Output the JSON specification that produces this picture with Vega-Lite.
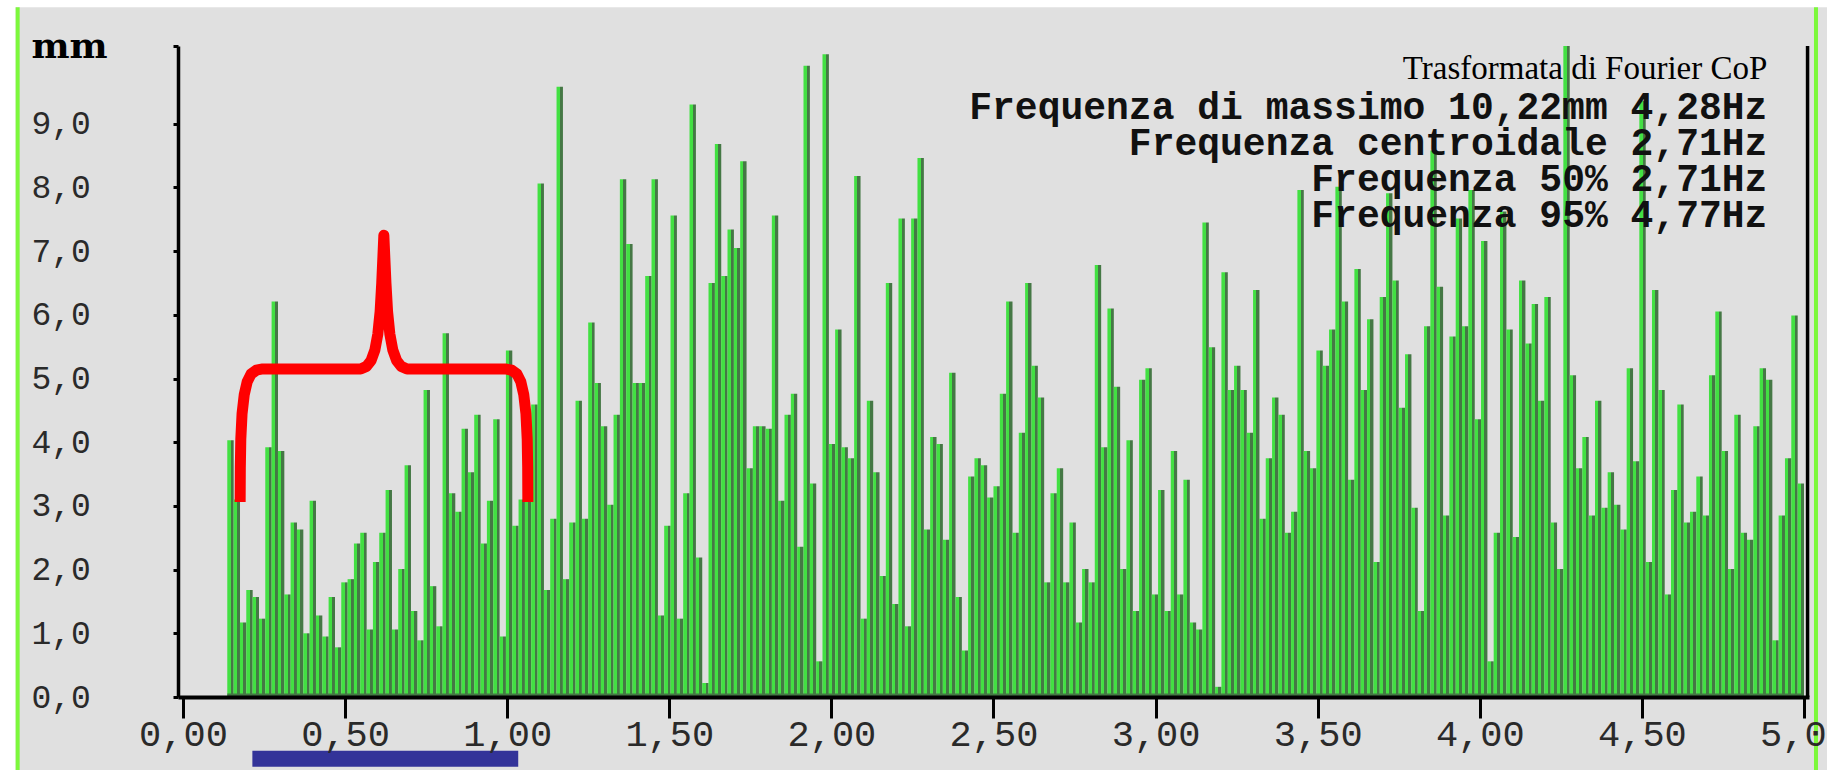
{
  "$schema": "https://vega.github.io/schema/vega-lite/v6.json",
  "width": 1631,
  "height": 651,
  "autosize": {"type": "none"},
  "padding": {"left": 178, "top": 46, "right": 18, "bottom": 73},
  "background": "#e0e0e0",
  "config": {"view": {"stroke": null}, "axis": {"grid": false}},
  "datasets": {
    "spectrum": [
      {"f":0.15625,"a":4.03},{"f":0.17578,"a":3.1},{"f":0.19531,"a":1.17},{"f":0.21484,"a":1.68},{"f":0.23438,"a":1.57},{"f":0.25391,"a":1.23},{"f":0.27344,"a":3.92},{"f":0.29297,"a":6.21},{"f":0.3125,"a":3.86},{"f":0.33203,"a":1.61},
      {"f":0.35156,"a":2.74},{"f":0.37109,"a":2.63},{"f":0.39063,"a":1.0},{"f":0.41016,"a":3.08},{"f":0.42969,"a":1.28},{"f":0.44922,"a":0.95},{"f":0.46875,"a":1.57},{"f":0.48828,"a":0.78},{"f":0.50781,"a":1.8},{"f":0.52734,"a":1.85},
      {"f":0.54688,"a":2.41},{"f":0.56641,"a":2.58},{"f":0.58594,"a":1.06},{"f":0.60547,"a":2.12},{"f":0.625,"a":2.58},{"f":0.64453,"a":3.25},{"f":0.66406,"a":1.06},{"f":0.68359,"a":2.01},{"f":0.70313,"a":3.64},{"f":0.72266,"a":1.35},
      {"f":0.74219,"a":0.89},{"f":0.76172,"a":4.82},{"f":0.78125,"a":1.74},{"f":0.80078,"a":1.11},{"f":0.82031,"a":5.71},{"f":0.83984,"a":3.2},{"f":0.85938,"a":2.91},{"f":0.87891,"a":4.21},
      {"f":0.89844,"a":3.53},{"f":0.91797,"a":4.43},{"f":0.9375,"a":2.41},{"f":0.95703,"a":3.08},{"f":0.97656,"a":4.36},{"f":0.99609,"a":0.95},{"f":1.01563,"a":5.44},{"f":1.03516,"a":2.69},{"f":1.05469,"a":3.1},{"f":1.07422,"a":3.1},
      {"f":1.09375,"a":4.59},{"f":1.11328,"a":8.06},{"f":1.13281,"a":1.68},{"f":1.15234,"a":2.8},{"f":1.17188,"a":9.58},{"f":1.19141,"a":1.85},{"f":1.21094,"a":2.74},{"f":1.23047,"a":4.65},{"f":1.25,"a":2.8},{"f":1.26953,"a":5.88},
      {"f":1.28906,"a":4.93},{"f":1.30859,"a":4.25},{"f":1.32813,"a":3.02},{"f":1.34766,"a":4.43},{"f":1.36719,"a":8.13},{"f":1.38672,"a":7.11},{"f":1.40625,"a":4.93},{"f":1.42578,"a":4.93},{"f":1.44531,"a":6.61},{"f":1.46484,"a":8.13},
      {"f":1.48438,"a":1.28},{"f":1.50391,"a":2.69},{"f":1.52344,"a":7.56},{"f":1.54297,"a":1.23},{"f":1.5625,"a":3.2},{"f":1.58203,"a":9.3},{"f":1.60156,"a":2.19},{"f":1.62109,"a":0.22},{"f":1.64063,"a":6.5},{"f":1.66016,"a":8.68},
      {"f":1.67969,"a":6.61},{"f":1.69922,"a":7.34},{"f":1.71875,"a":7.05},
      {"f":1.73828,"a":8.41},{"f":1.75781,"a":3.59},{"f":1.77734,"a":4.25},{"f":1.79688,"a":4.25},{"f":1.81641,"a":4.21},{"f":1.83594,"a":7.56},{"f":1.85547,"a":3.08},{"f":1.875,"a":4.43},{"f":1.89453,"a":4.76},{"f":1.91406,"a":2.36},
      {"f":1.93359,"a":9.91},{"f":1.95313,"a":3.35},{"f":1.97266,"a":0.56},{"f":1.99219,"a":10.09},{"f":2.01172,"a":3.97},{"f":2.03125,"a":5.77},{"f":2.05078,"a":3.92},{"f":2.07031,"a":3.75},{"f":2.08984,"a":8.18},{"f":2.10938,"a":1.23},
      {"f":2.12891,"a":4.65},{"f":2.14844,"a":3.53},{"f":2.16797,"a":1.9},{"f":2.1875,"a":6.5},{"f":2.20703,"a":1.46},{"f":2.22656,"a":7.51},{"f":2.24609,"a":1.11},{"f":2.26563,"a":7.51},{"f":2.28516,"a":8.46},{"f":2.30469,"a":2.63},
      {"f":2.32422,"a":4.08},{"f":2.34375,"a":3.97},{"f":2.36328,"a":2.47},{"f":2.38281,"a":5.09},{"f":2.40234,"a":1.57},{"f":2.42188,"a":0.73},{"f":2.44141,"a":3.46},{"f":2.46094,"a":3.75},{"f":2.48047,"a":3.64},{"f":2.5,"a":3.13},
      {"f":2.51953,"a":3.31},{"f":2.53906,"a":4.76},
      {"f":2.55859,"a":6.21},{"f":2.57813,"a":2.58},{"f":2.59766,"a":4.15},{"f":2.61719,"a":6.5},{"f":2.63672,"a":5.2},{"f":2.65625,"a":4.7},{"f":2.67578,"a":1.8},{"f":2.69531,"a":3.2},{"f":2.71484,"a":3.59},{"f":2.73438,"a":1.8},
      {"f":2.75391,"a":2.74},{"f":2.77344,"a":1.17},{"f":2.79297,"a":2.01},{"f":2.8125,"a":1.8},{"f":2.83203,"a":6.78},{"f":2.85156,"a":3.92},{"f":2.87109,"a":6.1},{"f":2.89063,"a":4.87},{"f":2.91016,"a":2.01},{"f":2.92969,"a":4.03},
      {"f":2.94922,"a":1.35},{"f":2.96875,"a":4.98},{"f":2.98828,"a":5.16},{"f":3.00781,"a":1.61},{"f":3.02734,"a":3.25},{"f":3.04688,"a":1.35},{"f":3.06641,"a":3.86},{"f":3.08594,"a":1.61},{"f":3.10547,"a":3.41},{"f":3.125,"a":1.17},
      {"f":3.14453,"a":1.06},{"f":3.16406,"a":7.45},{"f":3.18359,"a":5.49},{"f":3.20313,"a":0.16},{"f":3.22266,"a":6.67},{"f":3.24219,"a":4.82},{"f":3.26172,"a":5.2},{"f":3.28125,"a":4.82},{"f":3.30078,"a":4.15},{"f":3.32031,"a":6.39},
      {"f":3.33984,"a":2.8},{"f":3.35938,"a":3.75},{"f":3.37891,"a":4.7},
      {"f":3.39844,"a":4.43},{"f":3.41797,"a":2.58},{"f":3.4375,"a":2.91},{"f":3.45703,"a":7.96},{"f":3.47656,"a":3.86},{"f":3.49609,"a":3.59},{"f":3.51563,"a":5.44},{"f":3.53516,"a":5.2},{"f":3.55469,"a":5.77},{"f":3.57422,"a":8.01},
      {"f":3.59375,"a":6.21},{"f":3.61328,"a":3.41},{"f":3.63281,"a":6.72},{"f":3.65234,"a":4.82},{"f":3.67188,"a":5.93},{"f":3.69141,"a":2.12},{"f":3.71094,"a":6.28},{"f":3.73047,"a":7.91},{"f":3.75,"a":6.54},{"f":3.76953,"a":4.54},
      {"f":3.78906,"a":5.38},{"f":3.80859,"a":2.97},{"f":3.82813,"a":1.35},{"f":3.84766,"a":5.82},{"f":3.86719,"a":8.58},{"f":3.88672,"a":6.44},{"f":3.90625,"a":2.85},{"f":3.92578,"a":5.66},{"f":3.94531,"a":7.51},{"f":3.96484,"a":5.82},
      {"f":3.98438,"a":7.96},{"f":4.00391,"a":4.36},{"f":4.02344,"a":7.16},{"f":4.04297,"a":0.56},{"f":4.0625,"a":2.58},{"f":4.08203,"a":7.62},{"f":4.10156,"a":5.77},{"f":4.12109,"a":2.51},{"f":4.14063,"a":6.54},{"f":4.16016,"a":5.55},
      {"f":4.17969,"a":6.17},{"f":4.19922,"a":4.65},
      {"f":4.21875,"a":6.28},{"f":4.23828,"a":2.74},{"f":4.25781,"a":2.01},{"f":4.27734,"a":10.22},{"f":4.29688,"a":5.05},{"f":4.31641,"a":3.59},{"f":4.33594,"a":4.08},{"f":4.35547,"a":2.85},{"f":4.375,"a":4.65},{"f":4.39453,"a":2.97},
      {"f":4.41406,"a":3.53},{"f":4.43359,"a":3.02},{"f":4.45313,"a":2.63},{"f":4.47266,"a":5.16},{"f":4.49219,"a":3.7},{"f":4.51172,"a":9.36},{"f":4.53125,"a":2.12},{"f":4.55078,"a":6.39},{"f":4.57031,"a":4.82},{"f":4.58984,"a":1.61},
      {"f":4.60938,"a":3.25},{"f":4.62891,"a":4.59},{"f":4.64844,"a":2.74},{"f":4.66797,"a":2.91},{"f":4.6875,"a":3.46},{"f":4.70703,"a":2.85},{"f":4.72656,"a":5.05},{"f":4.74609,"a":6.05},{"f":4.76563,"a":3.86},{"f":4.78516,"a":2.01},
      {"f":4.80469,"a":4.43},{"f":4.82422,"a":2.58},{"f":4.84375,"a":2.47},{"f":4.86328,"a":4.25},{"f":4.88281,"a":5.16},{"f":4.90234,"a":4.98},{"f":4.92188,"a":0.89},{"f":4.94141,"a":2.85},{"f":4.96094,"a":3.75},{"f":4.98047,"a":5.99},
      {"f":5.0,"a":3.35}
    ],
    "brace": [
      {"s":1,"f":0.1763,"mm":3.06},{"s":2,"f":0.1768,"mm":3.6},{"s":3,"f":0.1783,"mm":4.05},{"s":4,"f":0.1822,"mm":4.45},{"s":5,"f":0.189,"mm":4.75},
      {"s":6,"f":0.198,"mm":4.95},{"s":7,"f":0.21,"mm":5.07},{"s":8,"f":0.226,"mm":5.13},{"s":9,"f":0.246,"mm":5.15},{"s":10,"f":0.548,"mm":5.15},
      {"s":11,"f":0.566,"mm":5.19},{"s":12,"f":0.58,"mm":5.28},{"s":13,"f":0.592,"mm":5.45},{"s":14,"f":0.601,"mm":5.7},{"s":15,"f":0.608,"mm":6.05},
      {"s":16,"f":0.613,"mm":6.5},{"s":17,"f":0.6165,"mm":6.9},{"s":18,"f":0.6195,"mm":7.25},{"s":19,"f":0.6225,"mm":6.9},{"s":20,"f":0.626,"mm":6.5},
      {"s":21,"f":0.631,"mm":6.05},{"s":22,"f":0.638,"mm":5.7},{"s":23,"f":0.647,"mm":5.45},{"s":24,"f":0.659,"mm":5.28},{"s":25,"f":0.673,"mm":5.19},
      {"s":26,"f":0.691,"mm":5.15},{"s":27,"f":0.994,"mm":5.15},{"s":28,"f":1.014,"mm":5.13},{"s":29,"f":1.03,"mm":5.07},{"s":30,"f":1.042,"mm":4.95},
      {"s":31,"f":1.051,"mm":4.75},{"s":32,"f":1.0578,"mm":4.45},{"s":33,"f":1.0617,"mm":4.05},{"s":34,"f":1.0632,"mm":3.6},{"s":35,"f":1.0637,"mm":3.06}
    ]
  },
  "layer": [
    {
      "data": {"values": [{}]},
      "mark": {"type": "rect", "fill": "#ffffff"},
      "encoding": {
        "x": {"datum": -0.6, "type": "quantitative"},
        "x2": {"datum": -0.5165},
        "y": {"datum": -1.3, "type": "quantitative"},
        "y2": {"datum": 11.2}
      }
    },
    {
      "data": {"values": [{}]},
      "mark": {"type": "rect", "fill": "#ffffff"},
      "encoding": {
        "x": {"datum": -0.6, "type": "quantitative"},
        "x2": {"datum": 5.3},
        "y": {"datum": 10.83, "type": "quantitative"},
        "y2": {"datum": 11.2}
      }
    },
    {
      "data": {"values": [{}]},
      "mark": {"type": "rule", "color": "#7cf83c", "strokeWidth": 4},
      "encoding": {
        "x": {"datum": -0.51, "type": "quantitative"},
        "y": {"datum": 10.83, "type": "quantitative"},
        "y2": {"datum": -1.3}
      }
    },
    {
      "data": {"values": [{}]},
      "mark": {"type": "rule", "color": "#7cf83c", "strokeWidth": 4},
      "encoding": {
        "x": {"datum": 5.037, "type": "quantitative"},
        "y": {"datum": 10.83, "type": "quantitative"},
        "y2": {"datum": -1.3}
      }
    },
    {
      "data": {"name": "spectrum"},
      "mark": {
        "type": "bar",
        "width": 6.4,
        "xOffset": -3.18,
        "fill": {
          "gradient": "linear",
          "x1": 0, "y1": 0, "x2": 1, "y2": 0,
          "stops": [
            {"offset": 0, "color": "#42e042"},
            {"offset": 0.52, "color": "#42e042"},
            {"offset": 0.52, "color": "#457845"},
            {"offset": 1, "color": "#457845"}
          ]
        }
      },
      "encoding": {
        "x": {
          "field": "f",
          "type": "quantitative",
          "scale": {"domain": [0, 5], "nice": false, "zero": true},
          "axis": {
            "values": [0, 0.5, 1, 1.5, 2, 2.5, 3, 3.5, 4, 4.5, 5],
            "labelExpr": "replace(format(datum.value, '.2f'), '.', ',')",
            "title": null,
            "zindex": 1,
            "domainColor": "#000000",
            "domainWidth": 4,
            "tickColor": "#000000",
            "tickWidth": 3,
            "tickSize": 21,
            "labelFont": "Liberation Mono",
            "labelFontSize": 37,
            "labelColor": "#2a2a2a",
            "labelPadding": -2,
            "labelFlush": false,
            "labelOverlap": false
          }
        },
        "y": {
          "field": "a",
          "type": "quantitative",
          "scale": {"domain": [0, 10.22], "nice": false},
          "axis": {
            "values": [0, 1, 2, 3, 4, 5, 6, 7, 8, 9, 10.22],
            "labelExpr": "datum.value > 10 ? 'mm' : replace(format(datum.value, '.1f'), '.', ',')",
            "title": null,
            "zindex": 1,
            "domainColor": "#000000",
            "domainWidth": 3.5,
            "tickColor": "#000000",
            "tickWidth": 3,
            "tickSize": 5,
            "labelAlign": "left",
            "labelBaseline": "middle",
            "labelPadding": 142,
            "labelFont": {"condition": {"test": "datum.value > 10", "value": "DejaVu Serif"}, "value": "Liberation Mono"},
            "labelFontWeight": {"condition": {"test": "datum.value > 10", "value": "bold"}, "value": "normal"},
            "labelColor": {"condition": {"test": "datum.value > 10", "value": "#000000"}, "value": "#2a2a2a"},
            "labelFontSize": {"condition": {"test": "datum.value > 10", "value": 36}, "value": 33},
            "labelOverlap": false
          }
        }
      }
    },
    {
      "data": {"values": [{}]},
      "mark": {"type": "rect", "fill": "#457845"},
      "encoding": {
        "x": {"datum": 0.1367, "type": "quantitative"},
        "x2": {"datum": 5.0},
        "y": {"datum": 0, "type": "quantitative"},
        "y2": {"datum": 0.055}
      }
    },
    {
      "data": {"values": [{}]},
      "mark": {"type": "rule", "color": "#000000", "strokeWidth": 3.5},
      "encoding": {
        "x": {"datum": 5.011, "type": "quantitative"},
        "y": {"datum": 0, "type": "quantitative"},
        "y2": {"datum": 10.22}
      }
    },
    {
      "data": {"name": "brace"},
      "mark": {"type": "line", "color": "#ff0000", "strokeWidth": 11, "strokeCap": "butt", "strokeJoin": "round", "interpolate": "linear"},
      "encoding": {
        "x": {"field": "f", "type": "quantitative"},
        "y": {"field": "mm", "type": "quantitative"},
        "order": {"field": "s", "type": "quantitative"}
      }
    },
    {
      "data": {"values": [{}]},
      "mark": {"type": "rect", "fill": "#333399"},
      "encoding": {
        "x": {"datum": 0.214, "type": "quantitative"},
        "x2": {"datum": 1.034},
        "y": {"datum": -0.843, "type": "quantitative"},
        "y2": {"datum": -1.094}
      }
    },
    {
      "data": {"values": [{}]},
      "mark": {"type": "text", "text": "Trasformata di Fourier CoP", "font": "Liberation Serif", "fontSize": 33, "align": "right", "baseline": "alphabetic", "color": "#000000"},
      "encoding": {
        "x": {"datum": 4.887, "type": "quantitative"},
        "y": {"datum": 9.7, "type": "quantitative"}
      }
    },
    {
      "data": {"values": [{}]},
      "mark": {
        "type": "text",
        "text": ["Frequenza di massimo 10,22mm 4,28Hz", "Frequenza centroidale 2,71Hz", "Frequenza 50% 2,71Hz", "Frequenza 95% 4,77Hz"],
        "font": "Liberation Mono",
        "fontWeight": "bold",
        "fontSize": 38,
        "lineHeight": 35.8,
        "align": "right",
        "baseline": "alphabetic",
        "color": "#111111"
      },
      "encoding": {
        "x": {"datum": 4.887, "type": "quantitative"},
        "y": {"datum": 9.067, "type": "quantitative"}
      }
    }
  ]
}
